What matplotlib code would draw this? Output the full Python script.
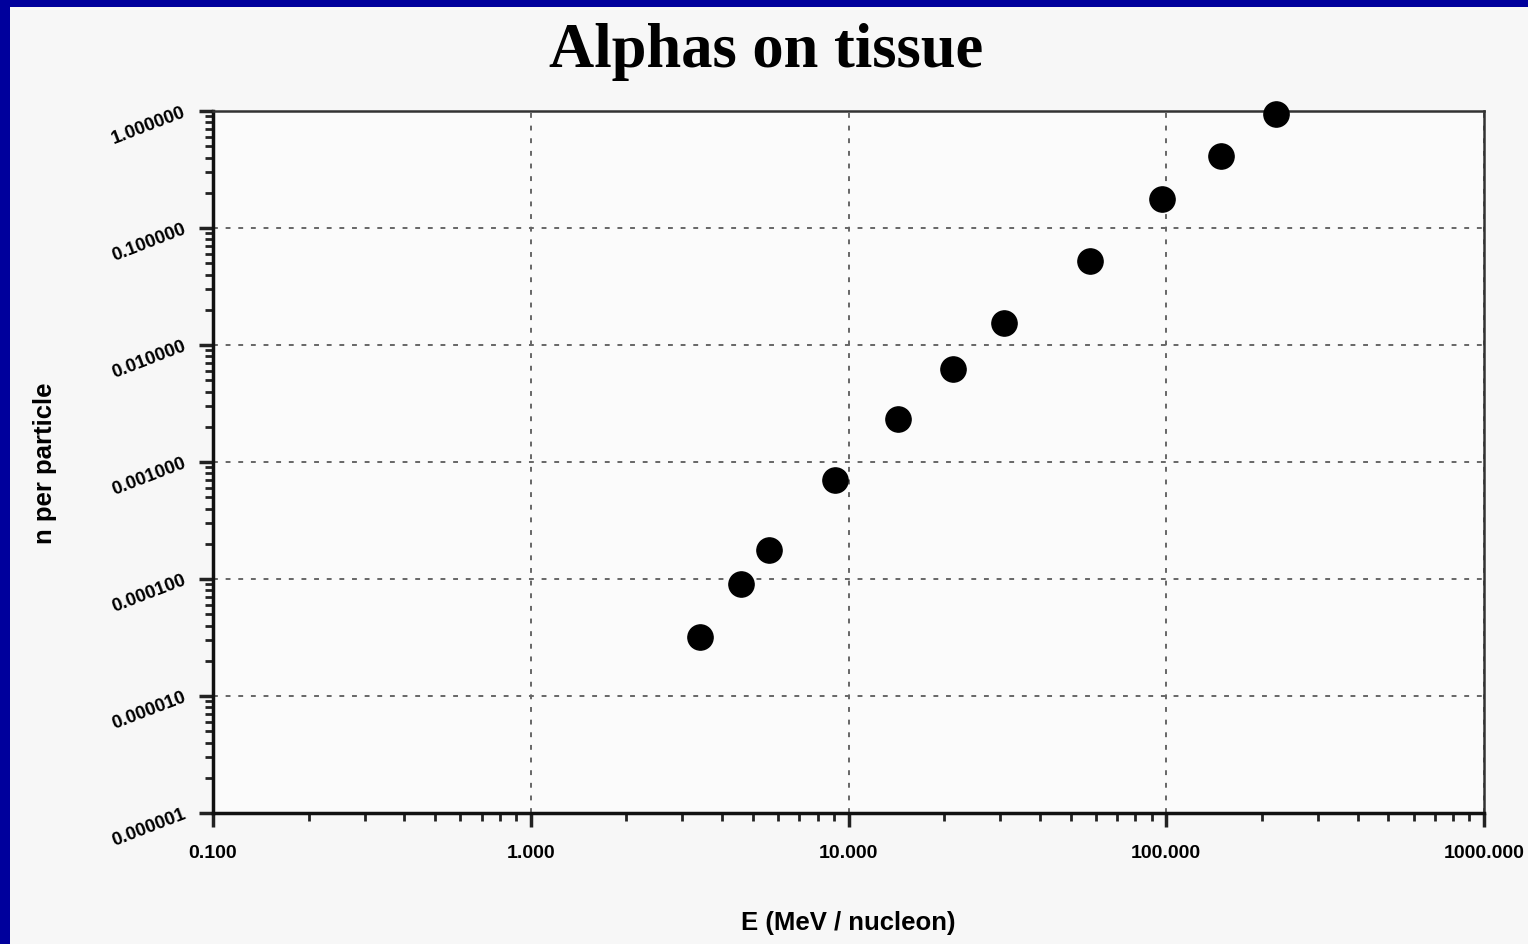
import matplotlib
matplotlib.use("Agg")
import matplotlib.pyplot as plt
from matplotlib.patches import Rectangle
from matplotlib.ticker import LogLocator, FixedLocator, NullFormatter

# energy (MeV / nucleon) and n per particle
energy = [3.41, 4.59, 5.62, 9.07, 14.3, 21.3, 30.9, 57.5, 96.9, 148.7, 221.5]
n_per_particle = [3.2e-5, 9.1e-5, 1.77e-4, 7.0e-4, 2.33e-3, 6.2e-3, 0.0154, 0.052, 0.177, 0.41, 0.94]

x_ticks = [0.1, 1, 10, 100, 1000]
x_labels = ["0.100", "1.000", "10.000", "100.000", "1000.000"]
y_ticks = [1e-6, 1e-5, 1e-4, 1e-3, 1e-2, 1e-1, 1]
y_labels = ["0.000001", "0.000010", "0.000100", "0.001000", "0.010000", "0.100000", "1.000000"]

fig = plt.figure(figsize=(15.28, 9.45), dpi=100)
fig.patch.set_facecolor("#00009c")
fig.patches.append(Rectangle((10 / 1528, 0), 1, 1 - 8 / 945, transform=fig.transFigure,
                             facecolor="#f7f7f7", edgecolor="none", zorder=-10))

ax = fig.add_axes([213 / 1528, 131 / 945, (1484 - 213) / 1528, (814 - 112) / 945])
ax.set_facecolor("#fbfbfb")
ax.set_xscale("log")
ax.set_yscale("log")
ax.set_xlim(0.1, 1000)
ax.set_ylim(1e-6, 1)

ax.scatter(energy, n_per_particle, s=330, color="black", zorder=3, clip_on=False)

ax.xaxis.set_major_locator(FixedLocator(x_ticks))
ax.yaxis.set_major_locator(FixedLocator(y_ticks))
ax.xaxis.set_minor_locator(LogLocator(base=10, subs=range(2, 10), numticks=20))
ax.yaxis.set_minor_locator(LogLocator(base=10, subs=range(2, 10), numticks=20))
ax.xaxis.set_minor_formatter(NullFormatter())
ax.yaxis.set_minor_formatter(NullFormatter())
ax.set_xticklabels(x_labels, fontsize=14, fontweight="bold", family="Liberation Sans")
ax.set_yticklabels(y_labels, fontsize=13.5, fontweight="bold", family="Liberation Sans",
                   rotation=21, ha="right", va="center", rotation_mode="anchor")

ax.tick_params(axis="both", which="major", direction="out", length=10, width=2.5, color="#222222")
ax.tick_params(axis="x", which="major", pad=12)
ax.tick_params(axis="y", which="major", pad=10)
ax.tick_params(axis="both", which="minor", direction="out", length=6, width=2, color="#222222")

ax.grid(True, which="major", linestyle=(0, (2.5, 4)), color="#666666", linewidth=1.4)
ax.set_axisbelow(True)

for side in ["left", "bottom"]:
    ax.spines[side].set_linewidth(2.5)
    ax.spines[side].set_color("#111111")
for side in ["top", "right"]:
    ax.spines[side].set_linewidth(1.8)
    ax.spines[side].set_color("#333333")

ax.set_xlabel("E (MeV / nucleon)", fontsize=18.5, fontweight="bold", family="Liberation Sans")
ax.set_ylabel("n per particle", fontsize=18.5, fontweight="bold", family="Liberation Sans")
ax.xaxis.set_label_coords(0.5, -0.138)
ax.yaxis.set_label_coords(-0.123, 0.5)

fig.text(766 / 1528, 1 - 52 / 945, "Alphas on tissue", ha="center", va="center",
         fontsize=45, fontweight="bold", family="Liberation Serif")

fig.savefig("out.png", dpi=100, facecolor=fig.get_facecolor())
